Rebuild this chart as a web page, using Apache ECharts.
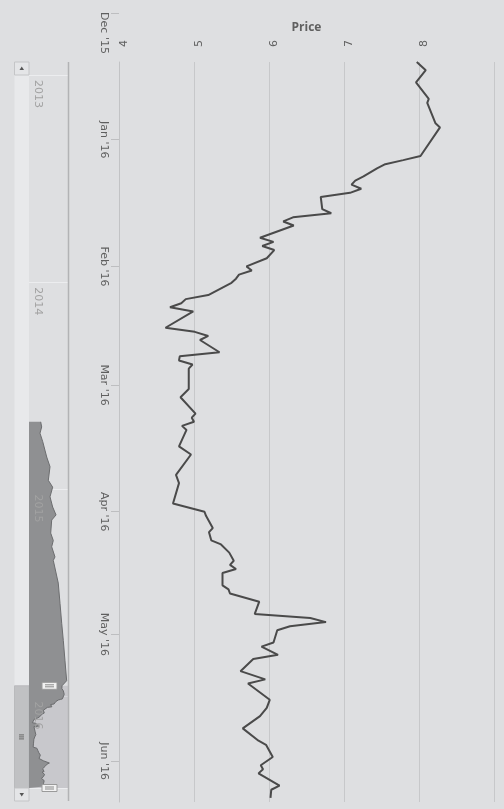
<!DOCTYPE html>
<html>
<head>
<meta charset="utf-8">
<script src="https://cdn.jsdelivr.net/npm/echarts@6/dist/echarts.min.js"></script>
<style>
  html, body { margin: 0; padding: 0; background: #dedfe1; }
  #chart { width: 504px; height: 809px; }
</style>
</head>
<body>
<div id="chart"></div>
<script>
// Daily closing prices shown in the main window (Dec 2015 - Jun 2016)
const priceDates = [
  '2015-12-13','2015-12-15','2015-12-18','2015-12-22','2015-12-23','2015-12-28','2015-12-29',
  '2016-01-05','2016-01-06','2016-01-07','2016-01-08','2016-01-10','2016-01-11','2016-01-12',
  '2016-01-13','2016-01-14','2016-01-15','2016-01-18','2016-01-19','2016-01-20','2016-01-21',
  '2016-01-22','2016-01-25','2016-01-26','2016-01-27','2016-01-28','2016-01-30',
  '2016-02-01','2016-02-02','2016-02-03','2016-02-04','2016-02-05','2016-02-08','2016-02-09',
  '2016-02-10','2016-02-11','2016-02-12','2016-02-16','2016-02-17','2016-02-18','2016-02-19',
  '2016-02-22','2016-02-23','2016-02-24','2016-02-25','2016-02-26',
  '2016-03-02','2016-03-04','2016-03-08','2016-03-09','2016-03-10','2016-03-11','2016-03-12',
  '2016-03-16','2016-03-18','2016-03-23','2016-03-25','2016-03-30',
  '2016-04-01','2016-04-02','2016-04-05','2016-04-06','2016-04-08','2016-04-09','2016-04-11',
  '2016-04-13','2016-04-14','2016-04-15','2016-04-16','2016-04-19','2016-04-20','2016-04-21',
  '2016-04-23','2016-04-26','2016-04-27','2016-04-28','2016-04-29','2016-04-30',
  '2016-05-03','2016-05-04','2016-05-06','2016-05-07','2016-05-10','2016-05-12','2016-05-13',
  '2016-05-17','2016-05-19','2016-05-21','2016-05-24','2016-05-27','2016-05-28','2016-05-31',
  '2016-06-02','2016-06-03','2016-06-04','2016-06-07','2016-06-08','2016-06-10'
];
const priceValues = [
  7.97, 8.09, 7.96, 8.13, 8.11, 8.22, 8.28,
  8.02, 7.79, 7.55, 7.44, 7.26, 7.15, 7.10,
  7.23, 7.08, 6.69, 6.71, 6.83, 6.32, 6.19,
  6.33, 5.88, 6.06, 5.91, 6.07, 5.97,
  5.70, 5.77, 5.60, 5.56, 5.50, 5.19, 4.89,
  4.83, 4.68, 4.99, 4.62, 5.01, 5.19, 5.08,
  5.34, 4.81, 4.80, 4.98, 4.93,
  4.93, 4.82, 5.02, 4.97, 5.00, 4.84, 4.90,
  4.80, 4.96, 4.76, 4.80, 4.72,
  5.14, 5.16, 5.25, 5.20, 5.23, 5.36, 5.47,
  5.53, 5.48, 5.56, 5.38, 5.38, 5.46, 5.48,
  5.87, 5.81, 6.55, 6.76, 6.28, 6.11,
  6.06, 5.90, 6.12, 5.79, 5.62, 5.95, 5.72,
  6.01, 5.97, 5.88, 5.65, 5.86, 5.96, 6.05,
  5.89, 5.92, 5.86, 6.14, 6.03, 6.02
];

// Earlier history, only visible in the navigator strip
const historyDates = [
  '2014-09-04','2014-09-13','2014-09-24','2014-10-09','2014-11-05','2014-11-22','2014-12-16',
  '2014-12-28','2015-01-14','2015-02-01','2015-02-15','2015-02-24','2015-03-19','2015-04-01',
  '2015-04-12','2015-04-30','2015-05-06','2015-06-15','2015-07-21','2015-08-25','2015-09-24',
  '2015-10-30','2015-12-04'
];
const historyValues = [
  5.57, 5.68, 5.49, 5.80, 6.25, 6.62, 6.43,
  6.92, 6.62, 6.92, 7.30, 6.81, 6.70, 6.99,
  6.81, 7.18, 6.99, 7.55, 7.75, 7.94, 8.12,
  8.31, 8.50
];

// Axis ranges and tick labels
const priceTicks = [4, 5, 6, 7, 8, 9];
const monthNames = ['Jan','Feb','Mar','Apr','May','Jun','Jul','Aug','Sep','Oct','Nov','Dec'];
const axisStart = '2015-12-01';
const axisEnd = '2016-06-11';
const navStart = '2013-01-01';
const navValueMin = 4.25;
const navValueMax = 8.65;

function ts(s) {
  const p = s.split('-').map(Number);
  return new Date(p[0], p[1] - 1, p[2]).getTime();
}
const DAY = 86400000;

const mainData = priceDates.map((d, i) => [priceValues[i], ts(d)]);
const navData = historyDates.map((d, i) => [historyValues[i], ts(d)]).concat(mainData);
const firstDate = ts(priceDates[0]);
const lastDate = ts(priceDates[priceDates.length - 1]);

const labelColor = '#5f5f5f';
const font = 'DejaVu Sans';

function monthLabel(v) {
  const d = new Date(v);
  const text = monthNames[d.getMonth()] + " '" + String(d.getFullYear()).slice(2);
  // the first label sits after its tick instead of centred on it
  return v === ts(axisStart) ? '{first|' + text + '}' : text;
}

const noBounds = { outerBoundsMode: 'none', containLabel: false };
const navTimeAxis = {
  gridIndex: 2, type: 'time', position: 'left', inverse: true,
  min: ts(navStart), max: lastDate, minInterval: 360 * DAY
};

const chart = echarts.init(document.getElementById('chart'));
chart.setOption({
  backgroundColor: '#dedfe1',
  animation: false,
  textStyle: { fontFamily: font },
  grid: [
    Object.assign({ left: 119, right: 10, top: 13, bottom: 7 }, noBounds),   // date labels
    Object.assign({ left: 119, right: 10, top: 62, bottom: 7 }, noBounds),   // plot
    Object.assign({ left: 29, width: 39, top: 75, bottom: 21 }, noBounds)    // navigator
  ],
  xAxis: [
    { gridIndex: 0, type: 'value', min: priceTicks[0], max: priceTicks[priceTicks.length - 1], show: false },
    {
      gridIndex: 1, type: 'value', position: 'top',
      min: priceTicks[0], max: priceTicks[priceTicks.length - 1], interval: 1,
      name: 'Price', nameLocation: 'middle', nameGap: 28, nameMoveOverlap: false,
      nameTextStyle: { fontFamily: 'Open Sans', fontWeight: 'bold', fontSize: 12, color: '#606060' },
      axisLine: { show: false }, axisTick: { show: false },
      axisLabel: {
        rotate: -90, align: 'left', verticalAlign: 'top', margin: 15,
        color: labelColor, fontSize: 11, showMaxLabel: false
      },
      splitLine: { show: true, lineStyle: { color: '#c7c8ca', width: 1 } }
    },
    { gridIndex: 2, type: 'value', min: navValueMin, max: navValueMax, show: false }
  ],
  yAxis: [
    {
      gridIndex: 0, type: 'time', inverse: true,
      min: ts(axisStart), max: ts(axisEnd),
      minInterval: 27 * DAY, splitNumber: 7,
      axisLine: { show: false },
      axisTick: { show: true, length: 8, lineStyle: { color: '#bdbec0' } },
      axisLabel: {
        rotate: -90, align: 'center', verticalAlign: 'top', margin: 10,
        color: labelColor, fontSize: 11, hideOverlap: false,
        formatter: monthLabel,
        rich: { first: { padding: [0, 0, 0, 40], color: labelColor, fontSize: 11 } }
      },
      splitLine: { show: false }
    },
    {
      gridIndex: 1, type: 'time', inverse: true,
      min: firstDate, max: ts(axisEnd),
      axisLine: { show: true, lineStyle: { color: '#c2c3c5', width: 1 } },
      axisTick: { show: false }, axisLabel: { show: false }, splitLine: { show: false }
    },
    // navigator year lines (under the area)
    Object.assign({}, navTimeAxis, {
      axisLine: { show: false }, axisTick: { show: false }, axisLabel: { show: false },
      splitLine: { show: true, lineStyle: { color: '#ecedef', width: 1 } }
    }),
    // navigator year labels (over the area)
    Object.assign({}, navTimeAxis, {
      z: 10,
      axisLine: { show: false }, axisTick: { show: false }, splitLine: { show: false },
      axisLabel: {
        inside: true, rotate: -90, align: 'left', verticalAlign: 'bottom', margin: 3,
        padding: [0, 0, 0, 5], color: '#a2a2a2', fontSize: 11, hideOverlap: false,
        formatter: v => String(new Date(v).getFullYear())
      }
    })
  ],
  series: [
    {
      type: 'line', xAxisIndex: 1, yAxisIndex: 1, data: mainData,
      symbol: 'none', lineStyle: { color: '#4a4a4a', width: 2 }, z: 5
    },
    {
      type: 'line', xAxisIndex: 2, yAxisIndex: 2, data: navData,
      symbol: 'none', lineStyle: { color: '#6c6d6f', width: 1 },
      areaStyle: { color: '#8f9092', opacity: 1 },
      markArea: {
        silent: true,
        itemStyle: { color: 'rgba(40,45,60,0.12)' },
        data: [[{ yAxis: firstDate }, { yAxis: lastDate }]]
      }
    }
  ]
});

// Scrollbar, navigator outline and handles, positioned from the navigator's time scale
const selTop = chart.convertToPixel({ yAxisIndex: 2 }, firstDate);
const selBot = chart.convertToPixel({ yAxisIndex: 2 }, lastDate);
const navTop = chart.convertToPixel({ yAxisIndex: 2 }, ts(navStart));

function handle(y) {
  return [
    { type: 'rect', shape: { x: 42, y: y - 3.5, width: 15, height: 7 }, style: { fill: '#f2f2f2', stroke: '#9a9a9a', lineWidth: 1 }, z: 20 },
    { type: 'line', shape: { x1: 45, y1: y - 1, x2: 54, y2: y - 1 }, style: { stroke: '#8a8a8a', lineWidth: 1 }, z: 21 },
    { type: 'line', shape: { x1: 45, y1: y + 1, x2: 54, y2: y + 1 }, style: { stroke: '#8a8a8a', lineWidth: 1 }, z: 21 }
  ];
}
const gripY = (selTop + selBot) / 2;
chart.setOption({
  graphic: [
    // scrollbar track and thumb
    { type: 'rect', shape: { x: 14.5, y: navTop, width: 14.5, height: selBot - navTop }, style: { fill: '#e8e9eb' }, z: 1 },
    { type: 'rect', shape: { x: 14.5, y: selTop, width: 14.5, height: selBot - selTop }, style: { fill: '#c0c1c3', stroke: '#b9babc' }, z: 2 },
    { type: 'line', shape: { x1: 19, y1: gripY - 2, x2: 24, y2: gripY - 2 }, style: { stroke: '#6a6a6a', lineWidth: 1 }, z: 3 },
    { type: 'line', shape: { x1: 19, y1: gripY, x2: 24, y2: gripY }, style: { stroke: '#6a6a6a', lineWidth: 1 }, z: 3 },
    { type: 'line', shape: { x1: 19, y1: gripY + 2, x2: 24, y2: gripY + 2 }, style: { stroke: '#6a6a6a', lineWidth: 1 }, z: 3 },
    // scrollbar arrow buttons
    { type: 'rect', shape: { x: 14.5, y: navTop - 13, width: 14.5, height: 13 }, style: { fill: '#e4e5e7', stroke: '#c4c5c7' }, z: 2 },
    { type: 'polygon', shape: { points: [[21.75, navTop - 8.5], [19.5, navTop - 5], [24, navTop - 5]] }, style: { fill: '#555' }, z: 3 },
    { type: 'rect', shape: { x: 14.5, y: selBot, width: 14.5, height: 13 }, style: { fill: '#e4e5e7', stroke: '#c4c5c7' }, z: 2 },
    { type: 'polygon', shape: { points: [[19.5, selBot + 5], [24, selBot + 5], [21.75, selBot + 8.5]] }, style: { fill: '#555' }, z: 3 },
    // navigator outline
    { type: 'line', shape: { x1: 68.5, y1: navTop - 13, x2: 68.5, y2: selBot + 13 }, style: { stroke: '#b2b3b5', lineWidth: 1.5 }, z: 10 }
  ].concat(handle(selTop), handle(selBot))
});
</script>
</body>
</html>
